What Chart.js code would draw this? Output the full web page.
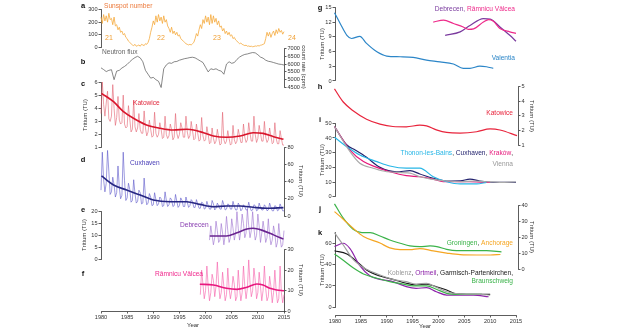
<!DOCTYPE html>
<html><head><meta charset="utf-8">
<script src="https://cdn.jsdelivr.net/npm/chart.js@4/dist/chart.umd.min.js"></script>
<style>
html,body{margin:0;padding:0;background:#fff;width:620px;height:330px;overflow:hidden}
#wrap{position:relative;width:620px;height:330px}
canvas{position:absolute;left:0;top:0}
</style></head><body><div id="wrap"></div>
<script>
// ---------------- DATA ----------------
const xTicks = [1980,1985,1990,1995,2000,2005,2010,2015];

// a: sunspot number, quarterly from 1980.0
const sunspotStart = 1980.0;
const sunspotValues = [240,190,260,210, 250,200,270,220, 230,180,240,170, 180,140,160,120, 130,100,110,80, 70,50,40,30, 20,15,25,10, 15,20,10,25, 20,15,30,25, 40,70,120,160, 210,180,250,200, 260,210,240,190, 250,200,220,170, 150,120,160,110, 130,100,120,90, 100,70,60,50, 40,30,25,20, 25,20,30,40, 70,110,90,140, 180,150,220,190, 250,200,240,180, 260,190,250,200, 230,180,210,160, 170,130,150,110, 130,100,120,90, 100,70,80,60, 50,40,30,35, 25,20,15,18, 10,12,8,10, 6,8,12,10, 15,12,18,20, 25,30,70,120, 90,120,80,110, 130,95,140,110, 150,120,135,105, 125,100,115,95];
const cycleLabels = ['21','22','23','24'];

// b: neutron flux, half-yearly from 1980.0
const neutronStart = 1980.0;
const neutronValues = [5760,5650,5520,5600,5640,5000,5550,5600,5750,5850,5980,6150,6300,6420,6500,6400,6150,5600,5350,5100,5150,5000,4900,4500,5700,5950,6080,6050,6150,6170,6250,6300,6350,6380,6420,6440,6400,6300,6200,6100,5800,5500,5700,5650,5700,5600,5550,5350,6000,6150,6050,6100,6300,6450,6550,6620,6650,6700,6740,6720,6600,6450,6380,6250,6180,6150,6100,6050,6000,5980,5940];

// c: Katowice, quarterly raw from 1980.0 + smooth
const katowiceStart = 1980.0;
const katowiceRaw = [3.6,6.0,4.3,3.4, 4.4,5.3,3.2,3.0, 3.4,5.8,4.0,2.7, 3.3,4.9,3.1,2.8, 2.9,5.0,2.8,2.5, 2.6,4.2,3.2,2.2, 2.4,4.6,2.6,2.2, 2.5,3.6,2.4,2.1, 2.1,3.8,2.5,1.9, 2.2,3.1,2.4,1.8, 1.9,3.7,2.1,1.8, 2.0,2.9,2.4,1.7, 1.8,3.4,2.0,1.7, 1.9,2.8,2.4,1.6, 1.8,3.6,2.1,1.7, 2.0,2.9,2.5,1.8, 1.8,3.4,2.2,1.7, 1.9,3.0,2.3,1.6, 1.7,2.8,2.1,1.5, 1.6,3.3,1.9,1.5, 1.6,2.6,2.0,1.3, 1.4,2.5,1.7,1.3, 1.5,2.4,1.8,1.2, 1.3,3.7,1.6,1.3, 1.5,2.3,1.7,1.2, 1.3,2.7,1.6,1.3, 1.5,2.4,1.9,1.4, 1.4,2.8,1.8,1.4, 1.6,2.9,2.1,1.5, 1.5,3.4,2.0,1.4, 1.7,2.7,2.1,1.5, 1.5,3.0,1.8,1.4, 1.6,2.5,1.9,1.3, 1.4,2.9,1.7,1.3, 1.3,2.3,1.7,1.2, 1.2,2.2];
const katowiceSmoothYears = [1980.1,1982.4,1984.3,1986.2,1988.7,1991.3,1993.8,1996.4,1997.7,1999.6,2001.5,2004,2006.6,2009.1,2011,2013,2014.9];
const katowiceSmooth = [5.14,4.5,3.74,3.24,2.73,2.48,2.35,2.4,2.35,2.14,1.89,1.79,1.89,2.14,2.09,1.84,1.64];

// d: Cuxhaven
const cuxhavenStart = 1980.0;
const cuxhavenRaw = [30,74,42,28, 38,76,52,25, 28,45,36,22, 27,58,33,20, 24,74,41,18, 21,38,31,16, 18,42,26,15, 17,30,27,14, 15,44,23,13, 15,26,22,12, 13,27,19,12, 14,22,20,11, 12,28,18,11, 13,21,19,11, 12,25,17,10, 12,21,18,11, 11,22,16,10, 12,19,17,10, 10,19,14,9, 9,16,15,8, 9,17,12,8, 8,18,14,7, 9,15,12,8, 8,18,13,7, 8,14,13,8, 8,17,11,7, 7,15,12,6, 8,13,11,7, 7,16,10,6, 7,13,12,6, 7,15,10,7, 7,13,11,6, 7,15,10,6, 6,12,11,6, 7,14,10,6, 6,13];
const cuxhavenSmoothYears = [1980.1,1982.4,1984.9,1987.5,1990,1993.2,1996.4,1998.9,2001.5,2004,2006.6,2009.1,2011.7,2014.9];
const cuxhavenSmooth = [46.4,36,30.1,24.3,18.6,16.6,16.6,13.5,10.8,11.6,11.6,10.1,8.9,9.7];

// e: Debrecen
const debrecenStart = 2000.75;
const debrecenRaw = [8,14,10,6, 9,16,12,7, 8,15,11,6, 10,18,12,7, 9,17,13,8, 11,20,13,8, 12,19,15,9, 11,21,14,9, 12,20,13,8, 10,19,14,7, 11,16,12,7, 9,17,10,6, 8,14,11,5, 7,15,9,5, 6,12,8,4];
const debrecenSmoothYears = [2000.8,2004,2006,2007.9,2009.1,2011,2013,2014.9];
const debrecenSmooth = [9.7,9.7,11.1,12.7,13,12,10.2,8.4];

// f: Râmnicu Vâlcea
const ramnicuStart = 1999.0;
const ramnicuRaw = [8,20,13,6, 10,22,12,5, 9,18,15,7, 12,24,13,6, 9,19,12,5, 8,21,11,6, 10,17,13,5, 7,20,11,5, 9,22,12,6, 11,25,14,7, 10,21,15,6, 9,19,12,5, 10,22,11,5, 7,17,12,4, 9,20,10,4, 6,22,9,4, 8];
const ramnicuSmoothYears = [1998.9,2001.5,2004,2006,2007.9,2009.8,2011,2012.3,2013.6,2015];
const ramnicuSmooth = [13.1,12.7,11.1,10.6,11.6,13.2,12.7,11.1,10.3,9.9];

// g
const valentiaYears = [1979.9,1981,1982.3,1983.2,1984.8,1986.1,1988.1,1990,1992.6,1995.1,1997.7,2000.3,2002.9,2004.8,2006.1,2008,2009.3,2010.6];
const valentiaValues = [13.9,11.7,9.3,8.65,9.1,7.65,5.95,5.08,4.94,4.8,4.25,3.9,3.45,2.58,2.58,3.04,2.9,2.58];
const debrecenGYears = [2001.3,2004.2,2006.1,2008.7,2010,2011.9,2013.8,2015];
const debrecenGValues = [9.3,10,11.3,12.7,12.6,11,9.3,8.1];
const ramnicuGYears = [1999,2001,2002.9,2004.8,2005.8,2006.8,2008.7,2009.7,2010.6,2011.9,2013.8,2015];
const ramnicuGValues = [12,12.4,11.7,11,10.5,10.6,12,12.5,12.2,10.7,10,9.7];

// h
const katowiceHYears = [1979.9,1981.6,1983.5,1986.1,1988.7,1991.2,1993.8,1996.4,1997.7,1999.6,2001.6,2004.2,2007.4,2010,2011.9,2015.2];
const katowiceHValues = [4.85,3.95,3.35,2.77,2.43,2.27,2.25,2.36,2.31,2.04,1.86,1.82,1.91,2.1,2.03,1.64];

// i
const krakowYears = [1979.9,1982.9,1985.5,1988.1,1990.6,1993.8,1996.4,1999,2000.9,2003.5,2006.1,2008.7,2010];
const krakowValues = [47.7,31.8,23.9,20,17,14.3,13.6,12,10.2,10.2,10.2,9.8,9.8];
const cuxhavenIYears = [1979.9,1982.3,1983.9,1986.1,1988.7,1991.9,1994.5,1996.4,1999,2001.6,2004.2,2006.1,2008,2010.6,2015];
const cuxhavenIValues = [47.7,35.2,31.8,26.8,20,17,17.7,15.5,12.5,10.7,10.8,12,10.7,9.8,9.8];
const thononYears = [1979.9,1982.3,1984.8,1988.1,1990.6,1993.8,1996.4,1999,2001.6,2004.2,2007.4,2009.3];
const thononValues = [40.5,34,28.4,23.9,20.9,19.4,19.4,13.6,10.2,8.7,8.7,9.8];
const viennaYears = [1979.9,1982.9,1984.8,1987.4,1990,1994.5,1996.4,1999,2001.6,2004.2,2006.8,2009.3,2011.9,2015];
const viennaValues = [47.7,30.7,22.8,19.4,17,16,13.6,11.8,10.7,10.2,10.7,10.2,9.8,10];

// j
const groningenYears = [1979.9,1981.6,1983.5,1985.2,1986.8,1988.7,1990.6,1992.6,1994.5,1996.4,1998.4,1999.7,2001.6,2003.5,2005.5,2009.3,2012.2];
const groningenValues = [40.7,31.8,25,22.9,22.9,20.8,18.3,16.3,14.6,14.2,14.6,14.2,12.5,11.7,11.7,11.7,10.9];
const anchorageYears = [1979.9,1981.6,1983.5,1985.5,1988.7,1990.6,1992.6,1994.5,1996.4,1999,2001.6,2004.2,2007.4,2010,2012];
const anchorageValues = [35.9,31.2,25.6,20.5,16.4,13.4,12.3,12.3,13,11.5,10.2,9.2,9,9,9.3];

// k
const koblenzYears = [1979.9,1981.6,1983.5,1986.1,1988.7,1991.2,1993.8,1995.7,1997.7,1999.6,2001.6,2004.2,2008.1,2010];
const koblenzValues = [69.9,58.4,45,35.6,30.3,26.2,24,21.8,22.5,18.8,14.6,12.5,12.2,11.5];
const ortmeilYears = [1979.9,1981.6,1982.9,1984.8,1986.8,1988.7,1991.2,1993.8,1995.7,1997.7,1999.6,2001.6,2004.2,2006.8,2009.7];
const ortmeilValues = [57,60,55,39,29.3,26.2,24,19.3,17.8,18.4,14.6,11.5,11.5,11.5,9.9];
const garmischYears = [1979.9,1982.3,1984.2,1986.1,1988.7,1991.2,1993.8,1995.7,1997.7,1999.6,2001.6,2003.5,2005.5,2008.1,2010];
const garmischValues = [53,50,43,35,29.3,26.2,22.5,20.9,21.8,19.3,16.2,12.5,12.2,12.2,12.2];
const braunschweigYears = [1979.9,1981.6,1983.5,1985.5,1988.1,1990.6,1993.2,1995.1,1997.7,1999.6,2001.6,2004.2,2006.8,2008.4];
const braunschweigValues = [50,44,37,31.2,27.2,24,21.8,20,20,16.9,13.1,12.2,12.2,12.2];

// ---------------- HELPERS ----------------
const FONT = "'Liberation Sans', Arial, sans-serif";
const AX = '#333';
const wrap = document.getElementById('wrap');
const reg = (start, vals, step) => vals.map((v, i) => ({x: start + i * step, y: v}));
const pair = (xs, ys) => xs.map((x, i) => ({x, y: ys[i]}));
const raw = (data, color, w) => ({data, borderColor: color, borderWidth: w || 0.7, tension: 0, pointRadius: 0, clip: false});
const smooth = (data, color, w) => ({data, borderColor: color, borderWidth: w || 1.2, cubicInterpolationMode: 'monotone', pointRadius: 0, clip: false});
const YW = 24, XH = 12;

function panel(o) {
  const [L, T, R, B] = o.area;
  const c = document.createElement('canvas');
  c.width = 620; c.height = 330;
  wrap.appendChild(c);
  const tickFont = {size: 5.6, family: FONT};
  const ypos = o.ypos || 'left';
  const yOn = o.yshow !== false;
  const xOn = !!o.xshow;
  const pad = {
    left: L - (yOn && ypos === 'left' ? YW : 0),
    right: 620 - R - (yOn && ypos === 'right' ? YW : 0),
    top: T,
    bottom: 330 - B - (xOn ? XH : 0)
  };
  return new Chart(c, {
    type: 'line',
    data: {datasets: o.datasets || []},
    options: {
      responsive: false, animation: false, devicePixelRatio: 1,
      layout: {padding: pad},
      plugins: {legend: {display: false}, tooltip: {enabled: false}},
      elements: {point: {radius: 0}},
      scales: {
        x: {type: 'linear', min: o.xmin ?? 1980, max: o.xmax ?? 2015, display: xOn,
            afterFit(s) { s.height = xOn ? XH : 0; s.paddingLeft = 0; s.paddingRight = 0; },
            afterBuildTicks(s) { s.ticks = xTicks.map(v => ({value: v})); },
            ticks: {font: tickFont, color: AX, padding: 1, maxRotation: 0, autoSkip: false, callback: v => String(v)},
            grid: {drawOnChartArea: false, tickLength: 2.5, color: AX, lineWidth: 0.8},
            border: {color: AX, width: 0.8}},
        y: {type: 'linear', position: ypos, min: o.ymin, max: o.ymax, display: yOn,
            afterFit(s) { s.width = yOn ? YW : 0; s.paddingTop = 0; s.paddingBottom = 0; },
            afterBuildTicks(s) { s.ticks = o.yticks.map(v => ({value: v})); },
            ticks: {font: tickFont, color: AX, padding: 1, autoSkip: false, callback: v => String(v)},
            grid: {drawOnChartArea: false, tickLength: 2.5, color: AX, lineWidth: 0.8},
            border: {color: AX, width: 0.8}}
      }
    },
    plugins: o.plugins || []
  });
}

// ---------------- LEFT COLUMN ----------------
const LX = [101, 284];
panel({area: [LX[0], 9.5, LX[1], 47.5], ymin: 0, ymax: 300, yticks: [0,100,200,300],
  datasets: [raw(reg(sunspotStart, sunspotValues, 0.25), '#f5aa3c', 0.8)]});
panel({area: [LX[0], 48.5, LX[1], 87.5], ymin: 4500, ymax: 7000, yticks: [4500,5000,5500,6000,6500,7000], ypos: 'right',
  datasets: [raw(reg(neutronStart, neutronValues, 0.5), '#555', 0.7)]});
panel({area: [LX[0], 82, LX[1], 147.7], ymin: 1, ymax: 6, yticks: [1,2,3,4,5,6],
  datasets: [smooth(pair(katowiceSmoothYears, katowiceSmooth), '#d9162c', 1.6), raw(reg(katowiceStart, katowiceRaw, 0.25), '#e2606e', 0.6)]});
panel({area: [LX[0], 147, LX[1], 216], ymin: 0, ymax: 80, yticks: [0,20,40,60,80], ypos: 'right',
  datasets: [smooth(pair(cuxhavenSmoothYears, cuxhavenSmooth), '#262682', 1.6), raw(reg(cuxhavenStart, cuxhavenRaw, 0.25), '#5b55c9', 0.6)]});
panel({area: [LX[0], 211.7, LX[1], 259], ymin: 0, ymax: 20, yticks: [0,5,10,15,20],
  datasets: [smooth(pair(debrecenSmoothYears, debrecenSmooth), '#6a2590', 1.6), raw(reg(debrecenStart, debrecenRaw, 0.25), '#9b6fcf', 0.6)]});
panel({area: [LX[0], 249.7, LX[1], 311], ymin: 0, ymax: 30, yticks: [0,10,20,30], ypos: 'right', xshow: true,
  datasets: [smooth(pair(ramnicuSmoothYears, ramnicuSmooth), '#e8187f', 1.6), raw(reg(ramnicuStart, ramnicuRaw, 0.25), '#f55aa8', 0.6)]});

// ---------------- RIGHT COLUMN ----------------
const RX = [335, 516];
const RXr = 518, xmaxR = 1980 + (518 - 335) / 5.17;
panel({area: [RX[0], 7.3, RX[1], 81], ymin: 0, ymax: 15, yticks: [0,3,6,9,12,15],
  datasets: [smooth(pair(valentiaYears, valentiaValues), '#2c86c8'), smooth(pair(ramnicuGYears, ramnicuGValues), '#ee2a8a'), smooth(pair(debrecenGYears, debrecenGValues), '#7a3a9e')]});
panel({area: [RX[0], 86.7, RXr, 145], xmax: xmaxR, ymin: 1, ymax: 5, yticks: [1,2,3,4,5], ypos: 'right',
  datasets: [smooth(pair(katowiceHYears, katowiceHValues), '#e8243c')]});
panel({area: [RX[0], 123.3, RX[1], 196.7], ymin: 0, ymax: 50, yticks: [0,10,20,30,40,50],
  datasets: [smooth(pair(viennaYears, viennaValues), '#aaaaaa'), smooth(pair(thononYears, thononValues), '#27b6e6'), smooth(pair(krakowYears, krakowValues), '#e6177a'), smooth(pair(cuxhavenIYears, cuxhavenIValues), '#23236e')]});
panel({area: [RX[0], 205, RXr, 269.5], xmax: xmaxR, ymin: 0, ymax: 40, yticks: [0,10,20,30,40], ypos: 'right',
  datasets: [smooth(pair(anchorageYears, anchorageValues), '#f5a623'), smooth(pair(groningenYears, groningenValues), '#3bb34a')]});
panel({area: [RX[0], 232.6, RX[1], 307.3], ymin: 0, ymax: 70, yticks: [0,20,40,60],
  datasets: [smooth(pair(koblenzYears, koblenzValues), '#a0a0a0'), smooth(pair(braunschweigYears, braunschweigValues), '#3bb34a'), smooth(pair(ortmeilYears, ortmeilValues), '#8e24aa'), smooth(pair(garmischYears, garmischValues), '#1a1a1a')]});

// ---------------- TEXT ----------------
const LBL = 6.6, TT = 6;
const texts = [
  {x: 83, y: 6, t: [['a', '#111']], bold: true, size: 7.5, align: 'center'},
  {x: 83, y: 62, t: [['b', '#111']], bold: true, size: 7.5, align: 'center'},
  {x: 83, y: 84, t: [['c', '#111']], bold: true, size: 7.5, align: 'center'},
  {x: 83, y: 160, t: [['d', '#111']], bold: true, size: 7.5, align: 'center'},
  {x: 83, y: 210, t: [['e', '#111']], bold: true, size: 7.5, align: 'center'},
  {x: 83, y: 274, t: [['f', '#111']], bold: true, size: 7.5, align: 'center'},
  {x: 320, y: 8, t: [['g', '#111']], bold: true, size: 7.5, align: 'center'},
  {x: 320, y: 87, t: [['h', '#111']], bold: true, size: 7.5, align: 'center'},
  {x: 320, y: 120, t: [['i', '#111']], bold: true, size: 7.5, align: 'center'},
  {x: 320, y: 209, t: [['j', '#111']], bold: true, size: 7.5, align: 'center'},
  {x: 320, y: 233, t: [['k', '#111']], bold: true, size: 7.5, align: 'center'},
  {x: 104, y: 6, t: [['Sunspot number', '#ec7a3c']], size: LBL},
  {x: 105, y: 38, t: [[cycleLabels[0], '#f0a035']], size: 7},
  {x: 157, y: 38, t: [[cycleLabels[1], '#f0a035']], size: 7},
  {x: 213, y: 38, t: [[cycleLabels[2], '#f0a035']], size: 7},
  {x: 288, y: 38, t: [[cycleLabels[3], '#f0a035']], size: 7},
  {x: 102, y: 52, t: [['Neutron flux', '#666']], size: LBL},
  {x: 133, y: 103, t: [['Katowice', '#e0283c']], size: LBL},
  {x: 130, y: 163, t: [['Cuxhaven', '#4b40b8']], size: LBL},
  {x: 180, y: 225, t: [['Debrecen', '#8a40b2']], size: LBL},
  {x: 155, y: 274, t: [['Râmnicu Vâlcea', '#f0288c']], size: LBL},
  {x: 515, y: 9, align: 'right', t: [['Debrecen', '#7a3a9e'], [', ', '#7a3a9e'], ['Râmnicu Vâlcea', '#ee2a8a']], size: LBL},
  {x: 515, y: 58, align: 'right', t: [['Valentia', '#2c86c8']], size: LBL},
  {x: 513, y: 113, align: 'right', t: [['Katowice', '#e8243c']], size: LBL},
  {x: 513, y: 153, align: 'right', t: [['Thonon-les-Bains', '#27b6e6'], [', ', '#333'], ['Cuxhaven', '#23236e'], [', ', '#333'], ['Kraków', '#e6177a'], [',', '#333']], size: LBL},
  {x: 513, y: 164.5, align: 'right', t: [['Vienna', '#999']], size: LBL},
  {x: 513, y: 243, align: 'right', t: [['Groningen', '#3bb34a'], [', ', '#333'], ['Anchorage', '#f5a623']], size: LBL},
  {x: 513, y: 273.5, align: 'right', t: [['Koblenz', '#999'], [', ', '#333'], ['Ortmeil', '#8e24aa'], [', ', '#333'], ['Garmisch-Partenkirchen,', '#1a1a1a']], size: LBL},
  {x: 513, y: 281, align: 'right', t: [['Braunschweig', '#3bb34a']], size: LBL},
  {x: 193, y: 325, align: 'center', t: [['Year', '#333']], size: TT},
  {x: 425, y: 326, align: 'center', t: [['Year', '#333']], size: TT},
  {x: 85, y: 115, rot: -1, align: 'center', t: [['Tritium (TU)', '#333']], size: TT},
  {x: 84, y: 235, rot: -1, align: 'center', t: [['Tritium (TU)', '#333']], size: TT},
  {x: 304, y: 67, rot: 1, align: 'center', t: [['count rate (cpm)', '#333']], size: TT},
  {x: 301, y: 181, rot: 1, align: 'center', t: [['Tritium (TU)', '#333']], size: TT},
  {x: 301, y: 280, rot: 1, align: 'center', t: [['Tritium (TU)', '#333']], size: TT},
  {x: 322, y: 44, rot: -1, align: 'center', t: [['Tritium (TU)', '#333']], size: TT},
  {x: 322, y: 160, rot: -1, align: 'center', t: [['Tritium (TU)', '#333']], size: TT},
  {x: 322, y: 270, rot: -1, align: 'center', t: [['Tritium (TU)', '#333']], size: TT},
  {x: 532, y: 116, rot: 1, align: 'center', t: [['Tritium (TU)', '#333']], size: TT},
  {x: 532, y: 237, rot: 1, align: 'center', t: [['Tritium (TU)', '#333']], size: TT},
];
const textPlugin = {
  id: 'texts',
  afterDraw(chart) {
    const ctx = chart.ctx;
    texts.forEach(o => {
      ctx.save();
      ctx.font = (o.bold ? 'bold ' : '') + o.size + 'px ' + FONT;
      ctx.textBaseline = 'middle';
      ctx.textAlign = 'left';
      const total = o.t.reduce((s, p) => s + ctx.measureText(p[0]).width, 0);
      ctx.translate(o.x, o.y);
      if (o.rot) ctx.rotate(o.rot * Math.PI / 2);
      let x0 = 0;
      if (o.align === 'right') x0 = -total;
      else if (o.align === 'center') x0 = -total / 2;
      o.t.forEach(p => { ctx.fillStyle = p[1]; ctx.fillText(p[0], x0, 0); x0 += ctx.measureText(p[0]).width; });
      ctx.restore();
    });
  }
};
// bottom x-axis of right column (detached), also hosts text layer
panel({area: [RX[0], 300, RX[1], 315], ymin: 0, ymax: 1, yticks: [0], yshow: false, xshow: true, datasets: [], plugins: [textPlugin]});
</script>
</body></html>
